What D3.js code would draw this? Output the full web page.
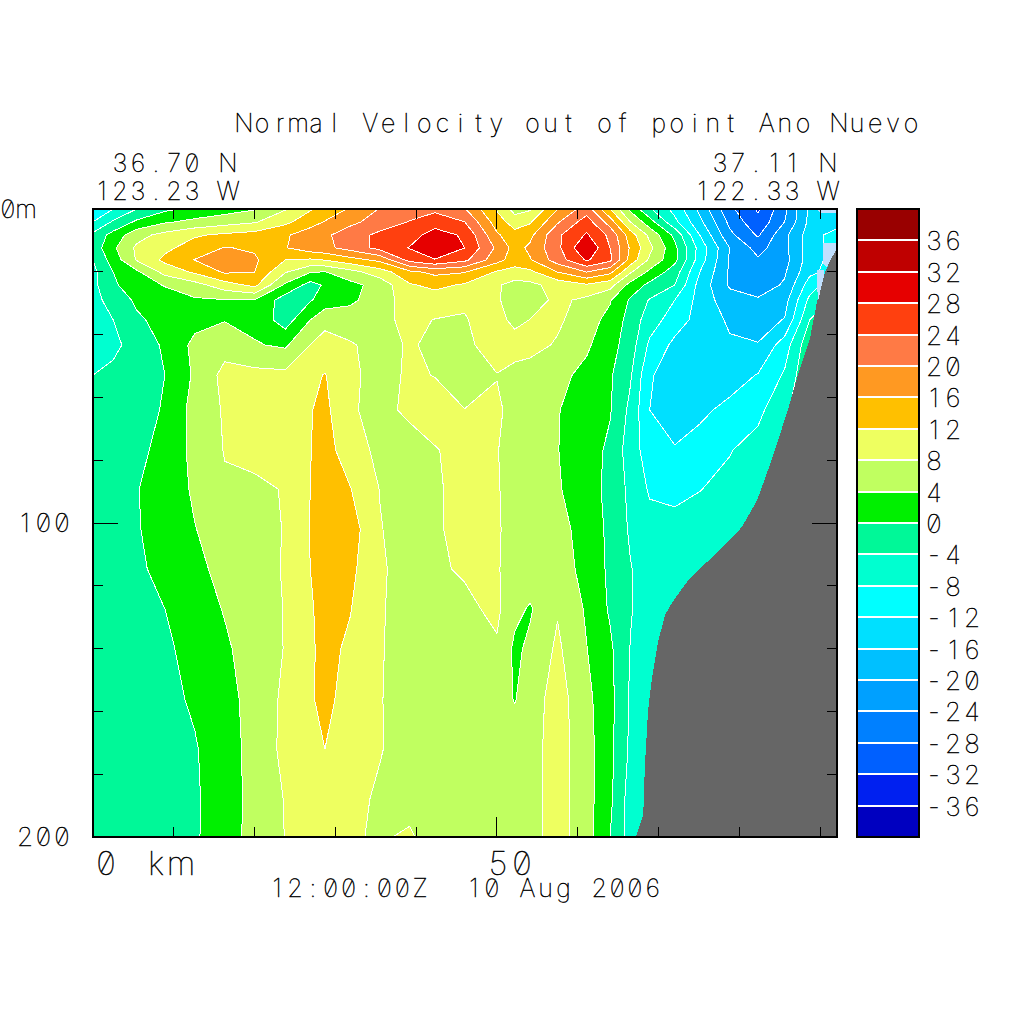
<!DOCTYPE html>
<html><head><meta charset="utf-8">
<script src="https://cdnjs.cloudflare.com/ajax/libs/d3/7.8.5/d3.min.js"></script>
<style>html,body{margin:0;padding:0;background:#fff}svg{display:block}
text{font-family:Inter,"DejaVu Sans",sans-serif;font-weight:100;font-feature-settings:"zero" 1;fill:#000;stroke:#000;stroke-width:.45px;text-anchor:middle}</style>
</head><body><svg id="c" width="1024" height="1024"></svg>
<script>
// distance along section (km) and depth (m) of the velocity grid
const km=[0,2.5,5.4,8.9,12.6,16.3,20,23.8,26.9,28.7,31.8,35.5,39.2,42.3,46,50,52.2,54.1,57.5,61.1,64,66.5,68.9,72,75.1,78.8,82.3,85.6,88.7,92.1];
const depth=[0,4.1,8.3,12.4,16.2,20.1,24.2,29,35.3,43.3,52.9,64,76.8,89.2,102,114.6,127.4,140.1,156.1,172,187.9,200];
// velocity rows (cm/s), one per depth
const r00=[-10,-8,-4,-0.8,1,2.3,3.7,7.7,11.6,13.5,16.4,20.2,22,23,20.3,11.5,6.5,7.5,16,22,12,3,-3.5,-9.3,-17,-27,-32.5,-25,-15,-14];
const r01=[-8,-3.5,0.7,3.5,5,6.3,7.6,11,14.4,16.2,19,21.7,24.2,26.5,24,14,10,11.5,19.5,26,18,8,1.6,-7,-15,-25,-31,-24,-15,-14];
const r02=[-3,1.5,6.6,9.3,11.5,12.8,13.6,15.5,18,19.3,22,25,26.5,29.5,27.5,16.6,13.5,15,23.3,28.5,23,14,7,-1,-12,-23,-28.5,-21,-14,-10];
const r03=[-2.5,3.3,8.7,11,14,16.2,15.5,15.8,18.2,19,21.4,25.3,28.2,31,28,19.2,14.5,16.8,23,31.9,24,15.5,9,1,-9.5,-20,-25.5,-21,-14,-10];
const r04=[-4,1.8,8.3,13,16.1,18.5,16.6,12,11.5,12.2,14.5,17,25.5,27.8,25,17.5,14,15.7,22,28.5,25,14.5,7.3,1,-10,-20.5,-23.5,-21.5,-14,-10];
const r05=[-5,0,3.2,9.3,12.6,16.5,16,8.3,4.2,3.8,6.5,10,15,17,16.2,11.5,10.5,11,16,20,17,8.5,3,-2,-12,-20.5,-23,-20.5,-13,-10];
const r06=[-5,-0.7,2.5,4.2,6.5,10.3,13,3.3,-1.5,0.5,2.8,5.5,11.6,13,11.5,8.5,6.5,7,9.5,11.5,9.5,2.6,-1,-4,-13.5,-20.5,-22.2,-19.5,-10,-5];
const r07=[-5,-2.8,0.8,2.5,3.5,3.8,3.8,-2,-0.3,1.5,3,6.5,9.5,10,8.4,8.5,6,6,9,7,4.3,-0.5,-4.3,-8,-13.5,-18.5,-19.5,-17.5,-7,-3];
const r08=[-5.5,-4,-0.8,1.7,2.8,3.8,3,-2,4,7,6.5,7.2,8.8,7.9,7.8,9.5,6.8,8.1,8.8,5.4,3,-1.6,-6,-10,-13.5,-16.6,-17.6,-15.8,-4,0];
const r09=[-5.5,-4.7,-2.8,0.7,5,6.5,4.3,3.4,8.1,9.3,8.3,7,8.3,7.4,7.3,9.5,10,9.5,7.5,4.6,1.5,-2,-8.8,-13,-14.5,-15.5,-15.8,-10,-1,1];
const r10=[-4,-3.3,-2,0,4.6,9.2,9.2,9,11,12.2,8.7,6.8,8.5,7.9,6.7,7.9,6.5,6,5,3,0.5,-3.5,-11.5,-14.5,-15,-13.7,-11.8,-7.5,0,2];
const r11=[-3,-2.8,-1.7,0.4,5.5,8.4,9.7,11,11.8,13,8.4,7,8.7,9.5,8.05,8.5,7,6.2,4.2,1.9,0.3,-5,-12,-14,-12.8,-11,-9,-5,0,2];
const r12=[-2,-2,-1.2,1.5,5,8.2,9.5,10.5,11.9,13.5,10,7,6.5,7.8,9,8.1,7,6,4.1,1.8,-0.8,-6,-10,-11.7,-10.5,-8.2,-6.5,-3,0,2];
const r13=[-1.5,-1.2,-0.2,2,4.5,7.5,7,8.3,12,14,12.2,7.9,6.5,7.5,9.2,8.2,7,6,4.4,1.6,-1,-5,-8.5,-8.8,-8.1,-7,-6,-3,0,2];
const r14=[-1.5,-1.2,-0.3,1.7,3.9,5.5,6.5,8.2,12.2,14.5,14,8.2,6.3,7.4,9.4,8.3,7,6.2,5.1,2.7,-1,-4.5,-6.5,-7,-6.5,-6,-5,-3,0,2];
const r15=[-1.5,-1.3,-0.6,1,3,5.2,6.5,8.3,12,14,13,8.6,6.2,7.5,8.4,8.2,7,6.3,5.2,3.2,-0.9,-3.8,-6,-6.5,-6,-5,-4,-3,0,2];
const r16=[-1.5,-1.4,-0.8,0,2.4,4.2,5.7,8.2,11.6,13.3,12.2,8.4,6.3,6.7,7.2,8.8,5,3.6,7.7,3.5,-0.5,-3.8,-5.5,-6,-6,-6,-6,-6,-6,-6];
const r17=[-1.5,-1.5,-1.2,-0.6,1.2,3.5,5.5,8.2,11.4,13.2,11.3,8.3,6.3,6.5,6.8,7.5,3.2,4.8,8.7,4.1,0.7,-4.1,-5.5,-6,-6,-6,-6,-6,-6,-6];
const r18=[-1.5,-1.5,-1.4,-1,0.5,2.6,5.5,8.8,11.6,13,10.5,8.2,6.3,6.5,6.6,5.8,3.8,6,9.8,5,1.2,-4.5,-6,-6,-6,-6,-6,-6,-6,-6];
const r19=[-1.5,-1.5,-1.5,-1.3,-0.3,2.2,5.4,9,11.6,12,10,8.2,6.5,6.5,6.5,6,6,6.5,9.8,5.5,1,-4.7,-6,-6,-6,-6,-6,-6,-6,-6];
const r20=[-1.5,-1.5,-1.5,-1.4,-0.5,2.1,5.3,8.2,9.5,9.8,9,7.5,7,6.5,6.4,6.2,6.2,6.5,9.8,5.5,0.8,-5.8,-6,-6,-6,-6,-6,-6,-6,-6];
const r21=[-1.5,-1.5,-1.5,-1.4,-0.5,2.4,5.2,8.1,9.3,9.7,8.3,7.7,8.4,6.5,6.2,6.2,6.3,6.5,9.8,5.5,0,-5.5,-6,-6,-6,-6,-6,-6,-6,-6];
const rows=[r00,r01,r02,r03,r04,r05,r06,r07,r08,r09,r10,r11,r12,r13,r14,r15,r16,r17,r18,r19,r20,r21];
// contour levels and band colours, lowest band first
const levels=[-36,-32,-28,-24,-20,-16,-12,-8,-4,0,4,8,12,16,20,24,28,32,36];
const bandColors=["#0000c0","#0020f0","#0060ff","#0080ff","#00a0ff","#00c0ff","#00e0ff","#00ffff","#00ffd0","#00f898","#00f000","#c0ff60","#eeff60","#ffc000","#ff9922","#ff7a45","#ff400f","#e60000","#bf0000","#990000"];
// sea floor profile [km, m] and the pale cells next to it
const floorKm=[92.1,90.6,89.6,88.7,87.3,86,84,82.2,80.3,78.6,76,73.5,71.7,70.8,69.9,69.2,68.7,68.3,68.1,67.2];
const floorDepth=[11.5,20.1,29.6,41.7,52.2,64,79.9,92.7,101.3,106,112.4,118.8,125.2,129.3,138.2,149,159.6,177.7,193,200];
const paleCells=[[[89.6,0.3],[92.1,0.3],[92.1,1.3],[90,1.3]],[[90.3,10.8],[92.1,10.8],[92.1,12.4],[90.8,18.5],[90.3,17.2]],[[89.6,19.4],[90.5,19.4],[90.5,21],[89.7,29.6]]];
const kmTicks=[10,20,30,40,50,60,70,80,90];
const depthTicks=[20,40,60,80,100,120,140,160,180];
const barLabels=[36,32,28,24,20,16,12,8,4,0,-4,-8,-12,-16,-20,-24,-28,-32,-36];

const svg=d3.select("#c");
const x=d3.scaleLinear().domain([0,92.08]).range([93,837]);
const y=d3.scaleLinear().domain([0,200]).range([209,837]);
const iKm=d3.scaleLinear().domain(d3.range(km.length)).range(km).clamp(true);
const iDepth=d3.scaleLinear().domain(d3.range(depth.length)).range(depth).clamp(true);
const bandColor=d3.scaleThreshold().domain(levels).range(bandColors);
const path=d3.geoPath(d3.geoTransform({point(a,b){this.stream.point(x(iKm(a-.5)),y(iDepth(b-.5)));}}));
svg.append("defs").append("clipPath").attr("id","plot").append("rect").attr("x",93).attr("y",209).attr("width",744).attr("height",628);
const g=svg.append("g").attr("clip-path","url(#plot)").attr("shape-rendering","crispEdges");
g.append("rect").attr("x",93).attr("y",209).attr("width",744).attr("height",628).attr("fill",bandColors[0]);
const cs=d3.contours().size([km.length,depth.length]).thresholds(levels)(rows.flat());
g.selectAll("path.f").data(cs).join("path").attr("d",path).attr("fill",d=>bandColor(d.value)).attr("stroke","none");
g.selectAll("path.l").data(cs).join("path").attr("d",path).attr("fill","none").attr("stroke","#fff").attr("stroke-width",1);
const ground=d3.area().x0(d=>x(d[0])).x1(x(92.08)).y(d=>y(d[1]));
g.append("path").attr("d",ground(d3.zip(floorKm,floorDepth))).attr("fill","#666");
g.selectAll("path.p").data(paleCells).join("path").attr("d",d3.line().x(d=>x(d[0])).y(d=>y(d[1])).curve(d3.curveLinearClosed)).attr("fill","#c0e0ff");
// ticks
const t=svg.append("g").attr("stroke","#000").attr("stroke-width",1).attr("shape-rendering","crispEdges");
kmTicks.forEach(k=>{const L=k===50?20:10;
 t.append("line").attr("x1",x(k)).attr("x2",x(k)).attr("y1",209).attr("y2",209+L);
 t.append("line").attr("x1",x(k)).attr("x2",x(k)).attr("y1",837).attr("y2",837-L);});
depthTicks.forEach(m=>{const L=m===100?25:10;
 t.append("line").attr("y1",y(m)).attr("y2",y(m)).attr("x1",93).attr("x2",93+L);
 t.append("line").attr("y1",y(m)).attr("y2",y(m)).attr("x1",837).attr("x2",837-L);});
svg.append("rect").attr("x",93).attr("y",209).attr("width",744).attr("height",628).attr("fill","none").attr("stroke","#000").attr("stroke-width",2).attr("shape-rendering","crispEdges");
// colour bar
const by=d3.scaleLinear().domain([40,-40]).range([209,837]);
const edges=[-40].concat(levels);
const b=svg.append("g").attr("shape-rendering","crispEdges");
b.selectAll("rect").data(edges).join("rect").attr("x",857).attr("width",62).attr("y",(d,i)=>by(i<levels.length?levels[i]:40)).attr("height",31.4).attr("fill",(d,i)=>bandColors[i]);
b.selectAll("line").data(levels).join("line").attr("x1",857).attr("x2",919).attr("y1",d=>by(d)).attr("y2",d=>by(d)).attr("stroke","#fff").attr("stroke-width",2);
b.append("rect").attr("x",857).attr("y",209).attr("width",62).attr("height",628).attr("fill","none").attr("stroke","#000").attr("stroke-width",2);
// text on a fixed character grid
function label(s,cx,base,adv,size){
 const chars=Array.from(s);
 svg.append("text").attr("style","white-space:pre").attr("x",chars.map((c,i)=>cx+i*adv).join(" ")).attr("y",base).attr("font-size",size).text(s);
}
label("Normal Velocity out of point Ano Nuevo",244,132,18.03,25);
label("36.70 N",120,172,18,25);
label("123.23 W",102,200,18,25);
label("37.11 N",720,172,18,25);
label("122.33 W",702,200,18,25);
label("0m",8,218,18,25);
label("100",25,532,18.5,26);
label("200",25,846,18.5,26);
label("0 km",106,875,25,33);
label("50",498,875,24,33);
label("12:00:00Z  10 Aug 2006",277,897,17.9,25);
barLabels.forEach(v=>label(String(v),934,by(v)+10,19,26));
</script></body></html>
